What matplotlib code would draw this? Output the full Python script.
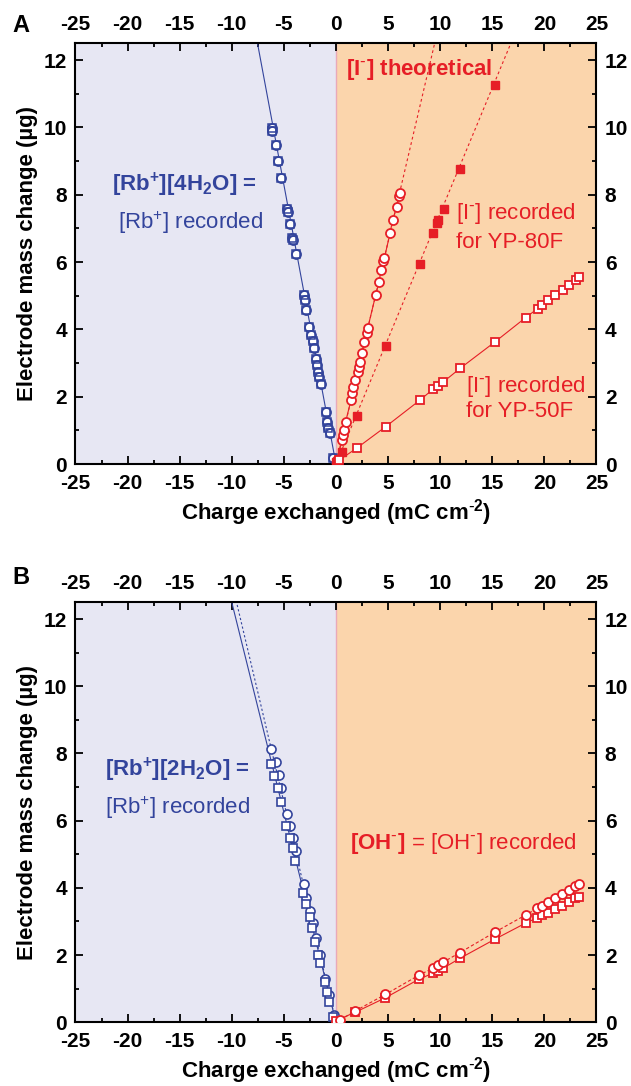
import numpy as np
import matplotlib.pyplot as plt
from matplotlib.ticker import MultipleLocator

plt.rcParams['font.family'] = ['Liberation Sans', 'DejaVu Sans']
plt.rcParams['mathtext.fontset'] = 'custom'
plt.rcParams['mathtext.default'] = 'regular'
plt.rcParams['axes.unicode_minus'] = False

BLUE = '#33449c'
RED = '#e61e26'
LAVENDER = '#e7e7f3'
PEACH = '#fbd5ac'

# ---------------- panel A data ----------------
# Rb+ uptake (negative charge), circles and squares coincide
rb_a_x = [-6.17, -6.10, -5.79, -5.53, -5.28, -4.70, -4.64, -4.41, -4.19, -4.10,
          -3.84, -3.07, -2.97, -2.88, -2.56, -2.40, -2.24, -2.11, -1.92, -1.79,
          -1.70, -1.60, -1.47, -0.99, -0.86, -0.73, -0.57, -0.26]
rb_a_y = [9.97, 9.90, 9.49, 9.00, 8.49, 7.59, 7.49, 7.13, 6.73, 6.65,
          6.24, 5.02, 4.87, 4.57, 4.06, 3.83, 3.66, 3.46, 3.11, 2.94,
          2.74, 2.59, 2.38, 1.55, 1.26, 1.06, 0.91, 0.17]
rb_a_slope = -1.66

# I- theoretical (open circles)
i_theo_x = [0.06, 0.61, 0.70, 0.80, 0.93, 1.44, 1.57, 1.66, 1.86, 2.08,
            2.21, 2.30, 2.46, 2.72, 2.94, 3.04, 3.81, 4.13, 4.32, 4.54,
            4.64, 5.18, 5.44, 5.82, 6.05, 6.14]
i_theo_y = [0.12, 0.71, 0.86, 1.01, 1.26, 1.90, 2.10, 2.30, 2.49, 2.74,
            2.89, 3.04, 3.29, 3.63, 3.88, 4.03, 5.02, 5.41, 5.76, 6.03,
            6.11, 6.85, 7.25, 7.64, 7.97, 8.04]
i_theo_slope = 1.32

# I- recorded for YP-80F (filled squares)
i_80_x = [0.00, 0.54, 1.98, 4.80, 8.06, 9.34, 9.73, 9.82, 10.36, 11.93, 15.26]
i_80_y = [0.07, 0.37, 1.44, 3.50, 5.93, 6.87, 7.17, 7.25, 7.59, 8.78, 11.26]
i_80_slope = 0.745

# I- recorded for YP-50F (open squares)
i_50_x = [0.32, 1.98, 4.77, 8.06, 9.34, 9.76, 10.30, 11.90, 15.26, 18.20,
          19.35, 19.80, 20.38, 21.02, 21.76, 22.39, 23.03, 23.35]
i_50_y = [0.12, 0.47, 1.11, 1.90, 2.23, 2.33, 2.44, 2.84, 3.63, 4.35,
          4.62, 4.72, 4.87, 5.02, 5.17, 5.32, 5.48, 5.56]

# ---------------- panel B data ----------------
rb_b_circ_x = [-6.19, -5.74, -5.42, -5.23, -4.68, -4.46, -4.14, -3.79, -3.09,
               -2.83, -2.45, -2.19, -1.90, -1.55, -1.01, -0.69, -0.21]
rb_b_circ_y = [8.13, 7.76, 7.36, 6.96, 6.20, 5.84, 5.49, 5.10, 4.11,
               3.69, 3.32, 2.95, 2.50, 2.00, 1.28, 0.81, 0.22]
rb_b_circ_slope = -1.31

rb_b_sq_x = [-6.22, -5.90, -5.55, -5.26, -4.75, -4.46, -4.14, -3.89, -3.15, -2.86,
             -2.54, -2.28, -2.03, -1.75, -1.58, -1.07, -0.84, -0.69, -0.27]
rb_b_sq_y = [7.69, 7.33, 6.96, 6.55, 5.84, 5.49, 5.18, 4.81, 3.86, 3.51,
             3.14, 2.80, 2.40, 2.00, 1.75, 1.21, 0.91, 0.61, 0.17]
rb_b_sq_slope = -1.25

oh_circ_x = [0.43, 1.87, 4.75, 8.01, 9.32, 9.77, 10.29, 11.88, 15.24, 18.19,
             19.31, 19.79, 20.36, 21.00, 21.71, 22.34, 22.98, 23.30]
oh_circ_y = [0.07, 0.34, 0.83, 1.41, 1.61, 1.71, 1.79, 2.07, 2.68, 3.19,
             3.39, 3.46, 3.59, 3.71, 3.81, 3.94, 4.06, 4.12]

oh_sq_x = [0.00, 1.87, 4.75, 8.01, 9.32, 9.77, 10.29, 11.88, 15.24, 18.19,
           19.31, 19.79, 20.36, 21.00, 21.71, 22.34, 22.98, 23.30]
oh_sq_y = [0.05, 0.30, 0.73, 1.29, 1.46, 1.54, 1.61, 1.90, 2.47, 2.95,
           3.11, 3.19, 3.26, 3.36, 3.46, 3.59, 3.69, 3.74]

x_ticks = np.arange(-25, 26, 5)
y_ticks = np.arange(0, 13, 2)

fig = plt.figure(figsize=(6.31, 10.86), dpi=100)
ax_a = fig.add_axes([0.1196, 0.5727, 0.8257, 0.3874])
ax_b = fig.add_axes([0.1196, 0.0587, 0.8257, 0.3867])

open_kw = dict(mfc='white', mew=1.3, lw=0.8)
NEG = r'\text{-}'


def style_axes(ax):
    ax.axvspan(-25, 0, color=LAVENDER, zorder=0, lw=0)
    ax.axvspan(0, 25, color=PEACH, zorder=0, lw=0)
    ax.axvline(0, color='#e9a9b9', lw=1.0, zorder=0.5)
    ax.set_xlim(-25, 25)
    ax.set_ylim(0, 12.5)
    ax.set_xticks(x_ticks)
    ax.set_yticks(y_ticks)
    ax.xaxis.set_minor_locator(MultipleLocator(2.5))
    ax.yaxis.set_minor_locator(MultipleLocator(1))
    ax.tick_params(which='both', direction='in', top=True, right=True,
                   labeltop=True, labelright=True, width=1.3)
    ax.tick_params(which='major', length=6, labelsize=15)
    ax.tick_params(axis='x', which='major', pad=7)
    ax.tick_params(axis='y', which='major', pad=6)
    ax.tick_params(which='minor', length=3)
    for sp in ax.spines.values():
        sp.set_linewidth(1.5)
    ax.set_xlabel('Charge exchanged (mC cm$^{%s2}$)' % NEG, fontsize=16,
                  fontweight='bold', labelpad=3)
    ax.set_ylabel('Electrode mass change (\u00b5g)', fontsize=16,
                  fontweight='bold', labelpad=4)
    for t in ax.xaxis.get_major_ticks() + ax.yaxis.get_major_ticks():
        t.label1.set_fontweight('bold')
        t.label2.set_fontweight('bold')


style_axes(ax_a)
style_axes(ax_b)

# ---------------- panel A ----------------
fit_x = np.array([0, -9])
ax_a.plot(fit_x, rb_a_slope * fit_x, color=BLUE, lw=0.8, zorder=2)
ax_a.plot(rb_a_x, rb_a_y, ls='none', marker='o', ms=6.5, mec=BLUE,
          mfc='white', mew=1.3, zorder=3)
ax_a.plot(rb_a_x, rb_a_y, ls='none', marker='s', ms=5.2, mec=BLUE,
          mfc='none', mew=1.1, zorder=3)

theo_x = np.array([0, 12])
ax_a.plot(theo_x, i_theo_slope * theo_x, color=RED, lw=0.8, ls=(0, (2.5, 2.5)),
          zorder=2)
ax_a.plot(i_theo_x, i_theo_y, color=RED, marker='o', ms=6.5, mec=RED, zorder=3,
          **open_kw)

rec80_x = np.array([0, 20])
ax_a.plot(rec80_x, i_80_slope * rec80_x, color=RED, lw=0.8, ls=(0, (2.5, 2.5)),
          zorder=2)
ax_a.plot(i_80_x, i_80_y, ls='none', marker='s', ms=6, color=RED, zorder=3)

ax_a.plot(i_50_x, i_50_y, color=RED, marker='s', ms=5.8, mec=RED, zorder=3,
          **open_kw)

# ---------------- panel B ----------------
fit_b = np.array([0, -11])
ax_b.plot(fit_b, rb_b_sq_slope * fit_b, color=BLUE, lw=0.8, zorder=2)
ax_b.plot(fit_b, rb_b_circ_slope * fit_b, color=BLUE, lw=0.8,
          ls=(0, (2, 2)), zorder=2)
ax_b.plot(rb_b_circ_x, rb_b_circ_y, ls='none', marker='o', ms=6.5, mec=BLUE,
          mfc='white', mew=1.2, zorder=3)
ax_b.plot(rb_b_sq_x, rb_b_sq_y, ls='none', marker='s', ms=6, mec=BLUE,
          mfc='white', mew=1.2, zorder=3)

ax_b.plot(oh_sq_x, oh_sq_y, color=RED, marker='s', ms=6, mec=RED, zorder=3,
          **open_kw)
ax_b.plot(oh_circ_x, oh_circ_y, color=RED, marker='o', ms=6.5, mec=RED,
          ls=(0, (3, 2)), zorder=3, mfc='white', mew=1.3, lw=0.8)


def place(x_px, y_px, s, **kw):
    # position text by pixel offset from the figure's top-left corner
    fig.text(x_px / 631, 1 - y_px / 1086, s, va='center', fontsize=16, **kw)


place(112, 185, '[Rb$^{+}$][4H$_{2}$O] =', color=BLUE, fontweight='bold')
place(118, 223, '[Rb$^{+}$] recorded', color=BLUE)
place(346, 70, '[I$^{%s}$] theoretical' % NEG, color=RED, fontweight='bold')
place(456, 213, '[I$^{%s}$] recorded' % NEG, color=RED)
place(456, 242, 'for YP-80F', color=RED)
place(466, 387, '[I$^{%s}$] recorded' % NEG, color=RED)
place(466, 412, 'for YP-50F', color=RED)

place(105, 770, '[Rb$^{+}$][2H$_{2}$O] =', color=BLUE, fontweight='bold')
place(105, 808, '[Rb$^{+}$] recorded', color=BLUE)
place(350, 843, '[OH$^{%s}$]' % NEG, color=RED, fontweight='bold')
place(411, 843, '= [OH$^{%s}$] recorded' % NEG, color=RED)

fig.text(12 / 631, 1 - 26 / 1086, 'A', fontsize=17, fontweight='bold',
         va='center')
fig.text(12 / 631, 1 - 578 / 1086, 'B', fontsize=17, fontweight='bold',
         va='center')

fig.savefig('out.png', dpi=100)
